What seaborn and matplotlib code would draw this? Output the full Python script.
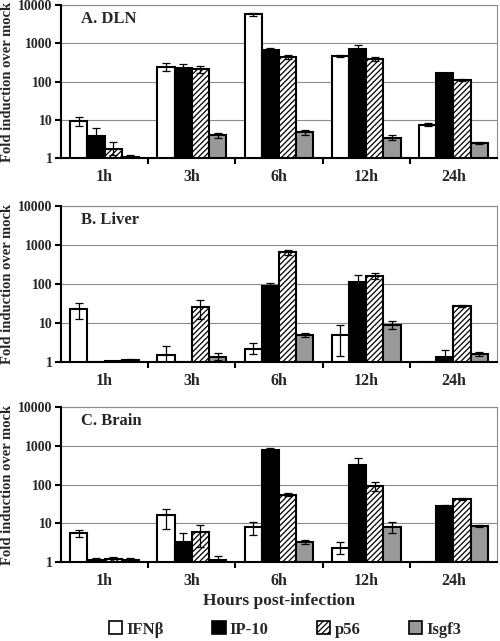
import numpy as np
import pandas as pd
import matplotlib
matplotlib.use("Agg")
import matplotlib.pyplot as plt
import matplotlib.patches as mpatches
from matplotlib.ticker import FixedLocator, NullLocator
import seaborn as sns

# --- data ---
times = ['1h', '3h', '6h', '12h', '24h']
genes = ['IFNβ', 'IP-10', 'p56', 'Isgf3']

# rows = genes, cols = times ; 1.0 means no visible bar
dln_val = [[9.5, 240, 5800, 470, 7.5],
           [3.7, 230, 680, 700, 165],
           [1.7, 210, 430, 390, 110],
           [1.05, 4.0, 4.7, 3.4, 2.5]]
dln_hi = [[12, 300, 6400, 500, 8.0],
          [6.0, 280, 760, 900, 172],
          [2.6, 260, 490, 430, 114],
          [1.2, 4.6, 5.5, 3.9, 2.7]]
dln_lo = [[7.0, 190, 5300, 440, 7.0],
          [2.5, 190, 610, 560, 160],
          [1.2, 170, 380, 350, 106],
          [0.9, 3.4, 4.0, 2.9, 2.3]]

liver_val = [[23, 1.5, 2.2, 5.0, 1.0],
             [1.0, 1.0, 88, 110, 1.35],
             [1.03, 25, 650, 160, 27],
             [1.15, 1.35, 5.0, 9.0, 1.6]]
liver_hi = [[32, 2.5, 3.0, 9.0, np.nan],
            [np.nan, np.nan, 105, 170, 2.0],
            [np.nan, 38, 750, 190, 29],
            [1.2, 1.7, 5.7, 11, 1.75]]
liver_lo = [[13, 1.0, 1.6, 1.4, np.nan],
            [np.nan, np.nan, 75, 75, 1.0],
            [np.nan, 13, 560, 135, 25],
            [1.1, 1.1, 4.4, 7.0, 1.45]]

brain_val = [[5.5, 16, 8.0, 2.3, 1.0],
             [1.15, 3.3, 800, 320, 28],
             [1.2, 6.0, 55, 90, 42],
             [1.1, 1.15, 3.3, 8.0, 8.3]]
brain_hi = [[6.8, 24, 10.5, 3.2, np.nan],
            [1.3, 5.5, 880, 470, 29],
            [1.35, 9.0, 60, 115, 45],
            [1.25, 1.4, 3.6, 10.5, 8.8]]
brain_lo = [[4.5, 7.0, 5.0, 1.6, np.nan],
            [1.0, 2.0, 720, 220, 27],
            [1.05, 2.5, 50, 70, 39],
            [0.95, 1.0, 3.0, 5.5, 7.8]]

panels = [('A. DLN', dln_val, dln_hi, dln_lo),
          ('B. Liver', liver_val, liver_hi, liver_lo),
          ('C. Brain', brain_val, brain_hi, brain_lo)]

FACE = ['white', 'black', 'white', '#999999']
HATCH = [None, None, '//////', None]
GRID = '#8c8c8c'

sns.set_style('white')
plt.rcParams['font.family'] = ['Liberation Serif', 'DejaVu Serif']
plt.rcParams['font.weight'] = 'bold'
plt.rcParams['hatch.linewidth'] = 0.9
plt.rcParams['hatch.color'] = 'black'

fig = plt.figure(figsize=(5.0, 6.41), dpi=100)
positions = [[0.122, 0.7535, 0.872, 0.2385],
             [0.122, 0.4353, 0.872, 0.2433],
             [0.122, 0.1232, 0.872, 0.2418]]

for (title, val, hi, lo), pos in zip(panels, positions):
    ax = fig.add_axes(pos)
    rows = []
    for g, gene in enumerate(genes):
        for t, tm in enumerate(times):
            rows.append({'time': tm, 'gene': gene, 'value': val[g][t]})
    df = pd.DataFrame(rows)
    sns.barplot(data=df, x='time', y='value', hue='gene', order=times,
                hue_order=genes, errorbar=None, width=0.79, ax=ax,
                legend=False)
    ax.set_yscale('log')
    ax.set_ylim(1, 10000)
    ax.set_xlim(-0.5, 4.5)

    bar_conts = list(ax.containers)
    for g, cont in enumerate(bar_conts):
        for t, bar in enumerate(cont):
            bar.set_facecolor(FACE[g])
            bar.set_edgecolor('black')
            bar.set_linewidth(1.5)
            if HATCH[g]:
                bar.set_hatch(HATCH[g])
            y = val[g][t]
            if np.isnan(hi[g][t]):
                continue
            xc = bar.get_x() + bar.get_width() / 2
            ax.errorbar(xc, y, yerr=[[y - lo[g][t]], [hi[g][t] - y]],
                        color='black', lw=0.9, capsize=3,
                        capthick=0.9, zorder=5)

    # grid and frame
    ax.yaxis.set_major_locator(FixedLocator([1, 10, 100, 1000, 10000]))
    ax.yaxis.set_minor_locator(NullLocator())
    ax.set_yticklabels(['1', '10', '100', '1000', '10000'])
    ax.grid(axis='y', color=GRID, lw=0.8)
    ax.set_axisbelow(True)
    for s in ['top', 'right']:
        ax.spines[s].set_color(GRID)
        ax.spines[s].set_linewidth(0.8)
    for s in ['left', 'bottom']:
        ax.spines[s].set_color('black')
        ax.spines[s].set_linewidth(1.5)
        ax.spines[s].set_zorder(6)

    ax.tick_params(axis='y', which='major', direction='out', length=4,
                   width=1.5, color='black', labelsize=10, pad=2, left=True)
    ax.set_xticks(range(len(times)))
    ax.set_xticklabels(times, fontsize=11.5, fontweight='bold')
    ax.set_xticks(np.arange(0.5, len(times) - 0.5), minor=True)
    ax.tick_params(axis='x', which='major', length=0, pad=8)
    ax.tick_params(axis='x', which='minor', direction='out', length=4,
                   width=1.5, color='black', bottom=True)
    for lb in ax.get_yticklabels():
        lb.set_fontweight('bold')

    ax.set_ylabel('Fold induction over mock', fontsize=10.5,
                  fontweight='bold', labelpad=3)
    ax.set_xlabel('')
    ax.text(0.045, 0.91, title, transform=ax.transAxes, fontsize=12,
            fontweight='bold', va='center', ha='left')

ax.set_xlabel('Hours post-infection', fontsize=12.5, fontweight='bold',
              labelpad=3)

handles = [mpatches.Patch(facecolor=FACE[g], edgecolor='black', lw=1.2,
                          hatch=HATCH[g], label=genes[g])
           for g in range(len(genes))]
fig.legend(handles=handles, loc='center', bbox_to_anchor=(0.57, 0.018),
           ncol=4, frameon=False, fontsize=12, handlelength=0.8,
           handleheight=0.8, handletextpad=0.25, columnspacing=2.9)

plt.savefig('out.png', dpi=100)
plt.close()
